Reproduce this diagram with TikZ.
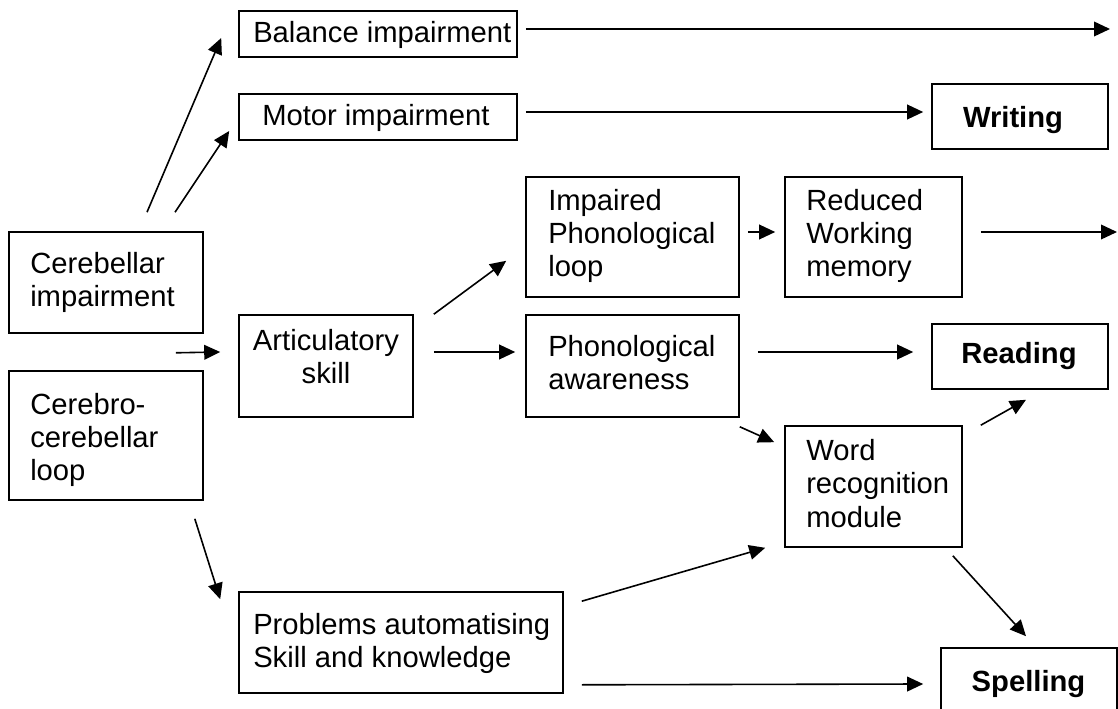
\documentclass[tikz,border=0pt]{standalone}
\usepackage{fontspec}
\setmainfont{Liberation Sans}
\usetikzlibrary{arrows.meta,calc}
\begin{document}
\begin{tikzpicture}[x=0.75pt,y=-0.75pt,
  box/.style={draw, line width=1.2pt, inner sep=0pt},
  txt/.style={inner sep=0pt, align=left, font=\fontsize{21.9}{25}\selectfont},
  hdr/.style={inner sep=0pt, font=\fontsize{21.9}{25}\selectfont\bfseries},
  arr/.style={line width=1.2pt, -{Triangle[length=12pt,width=11pt]}}]
\useasboundingbox (0,0) rectangle (1118,709);
\clip (0,0) rectangle (1118,709);

% boxes
\node[box, minimum width=208.5pt, minimum height=34.5pt]  (bal) at (378,34) {};
\node[box, minimum width=208.5pt, minimum height=34.5pt]  (mot) at (378,117) {};
\node[box, minimum width=132pt,   minimum height=48.75pt] (wri) at (1020,116.5) {};
\node[box, minimum width=145.5pt, minimum height=75.75pt] (cer) at (106,282.5) {};
\node[box, minimum width=145.5pt, minimum height=96.75pt] (cbr) at (106,435.5) {};
\node[box, minimum width=130.5pt, minimum height=76.5pt]  (art) at (326,366) {};
\node[box, minimum width=159.75pt,minimum height=90pt]    (imp) at (632.5,237) {};
\node[box, minimum width=132.75pt,minimum height=90pt]    (red) at (873.5,237) {};
\node[box, minimum width=159.75pt,minimum height=76.5pt]  (pha) at (632.5,366) {};
\node[box, minimum width=132pt,   minimum height=48.75pt] (rea) at (1020,356.5) {};
\node[box, minimum width=132.75pt,minimum height=90.75pt] (wrd) at (873.5,486.5) {};
\node[box, minimum width=243pt,   minimum height=75.75pt] (prb) at (401,642.5) {};
\node[box, minimum width=132pt,   minimum height=75pt]    (spl) at (1029,698) {};

% labels
\node[txt, anchor=west] (bal-t) at (253,35) {Balance impairment};
\node[txt, anchor=west] (mot-t) at (262,118) {Motor impairment};
\node[hdr] (wri-t) at (1013,120) {Writing};
\node[txt, anchor=west] (cer-t) at (30,282.5) {Cerebellar\\impairment};
\node[txt, anchor=west] (cbr-t) at (30,440) {Cerebro-\\cerebellar\\loop};
\node[txt, align=center] (art-t) at (326,356.5) {Articulatory\\skill};
\node[txt, anchor=west] (imp-t) at (548,236) {Impaired\\Phonological\\loop};
\node[txt, anchor=west] (red-t) at (806,236) {Reduced\\Working\\memory};
\node[txt, anchor=west] (pha-t) at (548,362.5) {Phonological\\awareness};
\node[hdr] (rea-t) at (1019,356.5) {Reading};
\node[txt, anchor=west] (wrd-t) at (806,483.5) {Word\\recognition\\module};
\node[txt, anchor=west] (prb-t) at (253,643.5) {Problems automatising\\Skill and knowledge};
\node[hdr] (spl-t) at (1028.5,684.5) {Spelling};

% open arrow ends
\coordinate (balout) at (1110,29);
\coordinate (redout) at (1117,232);

% connectors
\draw[arr] ($(cer.north)+(41,-19)$) -- ($(bal.west)+(-17,4)$);
\draw[arr] ($(cer.north)+(69,-19)$) -- ($(mot.west)+(-9,14)$);
\draw[arr] ($(bal.east)+(8,-5)$) -- (balout);
\draw[arr] ($(mot.east)+(8,-5)$) -- ($(wri.west)+(-8,-4.5)$);
\draw[arr] ($(cer.south east)+(-28,19)$) -- ($(art.west)+(-18,-14)$);
\draw[arr] ($(art.north east)+(20,0)$) -- ($(imp.south west)+(-19,-37)$);
\draw[arr] ($(art.east)+(20,-14)$) -- ($(pha.west)+(-10,-14)$);
\draw[arr] ($(imp.east)+(8,-5)$) -- ($(red.west)+(-9,-5)$);
\draw[arr] ($(red.east)+(18,-5)$) -- (redout);
\draw[arr] ($(pha.east)+(18,-14)$) -- ($(rea.west)+(-18,-4.5)$);
\draw[arr] ($(pha.south east)+(0,9)$) -- ($(wrd.north west)+(-10,17)$);
\draw[arr] ($(cbr.south east)+(-9,18)$) -- ($(prb.north west)+(-18,8)$);
\draw[arr] ($(prb.north east)+(18,10)$) -- ($(wrd.south west)+(-19,0)$);
\draw[arr] ($(wrd.north east)+(18,0)$) -- ($(rea.south)+(6,10)$);
\draw[arr] ($(wrd.south east)+(-10,8)$) -- ($(spl.north)+(-3,-11)$);
\draw[arr] ($(prb.south east)+(18,-9)$) -- ($(spl.west)+(-17,-14)$);
\end{tikzpicture}
\end{document}
